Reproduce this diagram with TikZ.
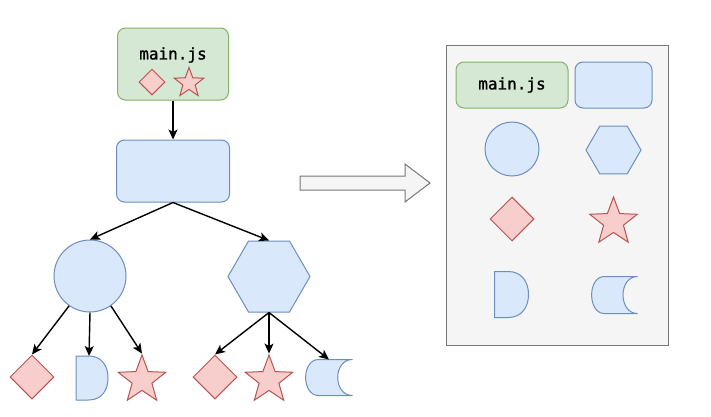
\documentclass[tikz,border=0pt]{standalone}
\usepackage{fontspec}
\newfontfamily\codefont[FakeBold=1.2]{DejaVu Sans Mono}
\usetikzlibrary{arrows.meta,shapes.geometric,calc}
\definecolor{greenFill}{HTML}{D5E8D4}
\definecolor{greenLine}{HTML}{82B366}
\definecolor{blueFill}{HTML}{DAE8FC}
\definecolor{blueLine}{HTML}{6C8EBF}
\definecolor{redFill}{HTML}{F8CECC}
\definecolor{redLine}{HTML}{B85450}
\definecolor{greyFill}{HTML}{F5F5F5}
\definecolor{greyLine}{HTML}{777777}

% half disc (flat left side) drawn inside a named slot node
\newcommand{\delayshape}[1]{%
  \draw[draw=blueLine, fill=blueFill, line width=1pt]
    (#1.south west) -- (#1.north west) -- ($(#1.north west)!0.4!(#1.north east)$)
    .. controls ($(#1.north west)!0.8!(#1.north east)$) and ($(#1.east)!0.552!(#1.north east)$) .. (#1.east)
    .. controls ($(#1.east)!0.552!(#1.south east)$) and ($(#1.south west)!0.8!(#1.south east)$) .. ($(#1.south west)!0.4!(#1.south east)$)
    -- cycle;}
% storage shape (round left side, hollow right side)
\newcommand{\storeshape}[1]{%
  \draw[draw=blueLine, fill=blueFill, line width=1pt]
    ($(#1.north west)!0.28!(#1.north east)$) -- (#1.north east)
    .. controls ($(#1.north east)!0.42!(#1.north west)$) and ($(#1.south east)!0.42!(#1.south west)$) .. (#1.south east)
    -- ($(#1.south west)!0.28!(#1.south east)$)
    .. controls ($(#1.south west)!-0.09!(#1.south east)$) and ($(#1.north west)!-0.09!(#1.north east)$) .. cycle;}

\begin{document}
\begin{tikzpicture}[x=1pt, y=-1pt,
    every node/.style={inner sep=0pt, line width=1pt},
    greenbox/.style={draw=greenLine, fill=greenFill, rounded corners=8pt, font=\codefont\fontsize{16}{18}\selectfont},
    bluebox/.style={draw=blueLine, fill=blueFill, rounded corners=8pt},
    bluecircle/.style={circle, draw=blueLine, fill=blueFill, minimum size=#1},
    bluehex/.style={regular polygon, regular polygon sides=6, draw=blueLine, fill=blueFill, minimum size=#1},
    reddiamond/.style={diamond, draw=redLine, fill=redFill, minimum width=#1, minimum height=#1},
    redstar/.style={star, star points=5, star point ratio=2.4, draw=redLine, fill=redFill, minimum size=#1},
    slot/.style 2 args={minimum width=#1, minimum height=#2},
    link/.style={-{Stealth[length=10pt, width=9pt, inset=2.5pt]}, line width=1.4pt}
  ]
    \useasboundingbox (0,0) rectangle (711,416);

    % tree on the left
    \node[greenbox, minimum width=111, minimum height=72] (mainL) at (173,64) {};
    \node[font=\codefont\fontsize{16}{18}\selectfont] (mainLtext) at (173,55) {main.js};
    \node[reddiamond=26] (mainLdia) at (152,82) {};
    \node[redstar=31] (mainLstar) at (189,83) {};
    \node[bluebox, minimum width=113, minimum height=62] (bundleL) at (173,171) {};
    \node[bluecircle=72] (circL) at (90,276) {};
    \node[bluehex=82] (hexL) at (269,276.5) {};

    \node[reddiamond=44] (diaA) at (32,377) {};
    \node[slot={31}{43}] (delayA) at (92,378) {};
    \node[redstar=50] (starA) at (142,380) {};
    \node[reddiamond=44] (diaB) at (215,377) {};
    \node[redstar=50] (starB) at (269,380) {};
    \node[slot={46}{35}] (storeB) at (329,377.5) {};
    \delayshape{delayA}
    \storeshape{storeB}

    \draw[link] (mainL.south) -- (bundleL.north);
    \draw[link] (bundleL.south) -- (circL.north);
    \draw[link] (bundleL.south) -- (hexL.north);
    \draw[link] (circL.-125) -- (diaA.north);
    \draw[link] (circL.south) -- ([xshift=-3pt]delayA.north);
    \draw[link] (circL.-55) -- (starA.north);
    \draw[link] (hexL.south) -- (diaB.north);
    \draw[link] (hexL.south) -- (starB.north);
    \draw[link] (hexL.south) -- (storeB.north);

    % big arrow
    \draw[draw=greyLine, fill=greyFill, line width=1pt]
      (300,176) -- (405,176) -- (405,164) -- (430,183) -- (405,202) -- (405,190) -- (300,190) -- cycle;

    % panel on the right
    \node[draw=greyLine, fill=greyFill, minimum width=222, minimum height=300] (panel) at (557,195) {};
    \node[greenbox, minimum width=112, minimum height=46] (mainR) at (512,85) {main.js};
    \node[bluebox, minimum width=77, minimum height=46] (bundleR) at (613.5,85) {};
    \node[bluecircle=54] (circR) at (512,149) {};
    \node[bluehex=55] (hexR) at (613.5,150) {};
    \node[reddiamond=44] (diaR) at (512,219) {};
    \node[redstar=50] (starR) at (613.5,222) {};
    \node[slot={33}{45}] (delayR) at (511.5,294.5) {};
    \node[slot={45}{36}] (storeR) at (614.5,295) {};
    \delayshape{delayR}
    \storeshape{storeR}
\end{tikzpicture}
\end{document}
